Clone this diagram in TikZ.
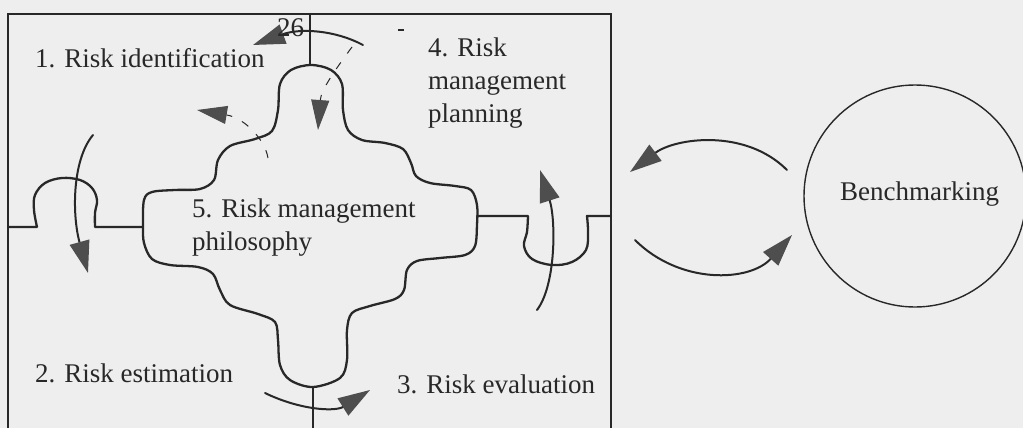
\documentclass[tikz,border=0pt]{standalone}
\usepackage{fontspec}
\setmainfont{Liberation Serif}
\usetikzlibrary{arrows.meta}
\definecolor{paper}{RGB}{238,238,238}
\definecolor{ink}{RGB}{40,40,40}
\definecolor{headfill}{RGB}{78,78,78}

\begin{document}
\begin{tikzpicture}[x=1pt,y=-1pt,
  label/.style={font=\fontsize{27}{33}\selectfont, text=ink, inner sep=0pt, anchor=base west, align=left},
  outline/.style={draw=ink, line width=2.3pt, line join=round, line cap=round},
  frame/.style={draw=ink, line width=1.8pt},
  flow/.style={draw=ink, line width=2pt, line cap=round, -{Triangle[length=32pt,width=20pt,color=headfill]}},
  dashflow/.style={draw=ink, line width=1pt, dash pattern=on 8pt off 11pt, -{Triangle[length=30pt,width=18pt,color=headfill]}},
]
\useasboundingbox (0,0) rectangle (1023,428);
\fill[paper] (0,0) rectangle (1023,428);

% outer frame
\draw[frame] (8,14) -- (611,14) -- (611,432) -- (8,432) -- cycle;

% central four-lobed shape
\draw[outline] plot[smooth cycle, tension=0.55] coordinates {
  (278,110) (280,84) (291,70) (311,65) (331,70) (342,84) (343,110)
  (348,130) (362,140) (385,143) (403,149) (411,163) (416,176) (430,183) (455,186) (471,190) (477,205)
  (477,225) (475,246) (465,255) (440,258) (417,261) (407,270) (404,290) (395,299) (370,306) (352,313) (347,330)
  (347,360) (340,378) (313,387) (290,380) (280,365) (278,340)
  (275,322) (258,314) (230,305) (220,290) (213,274) (198,267) (170,265) (152,259) (144,243)
  (143,225) (144,200) (152,192) (175,190) (200,189) (214,180) (218,160) (230,146) (255,139) (272,131)
};

% connection points of the shape
\coordinate (top)    at (310,65);
\coordinate (bottom) at (313,387);
\coordinate (left)   at (143,227);
\coordinate (right)  at (477,216);

% arms joining the shape to the frame
\draw[outline] (top) -- (310,14);
\draw[outline] (bottom) -- (313,432);
\draw[outline] (8,227) -- (37,227)
  plot[smooth, tension=0.6] coordinates {(37,227) (34,210) (35,195) (45,183) (62,178) (80,180) (92,188) (97,200) (95,213) (95,227)}
  -- (left);
\draw[outline] (right) -- (528,216)
  plot[smooth, tension=0.6] coordinates {(528,216) (527,232) (524,246) (532,259) (552,265) (572,262) (586,250) (588,232) (587,216)}
  -- (611,216);

% cycle arrows inside the frame
\coordinate (tA) at (363,45);  \coordinate (tB) at (253,45);
\coordinate (lA) at (93,135);  \coordinate (lB) at (88,273);
\coordinate (bA) at (265,393); \coordinate (bB) at (370,390);
\coordinate (rA) at (537,310); \coordinate (rB) at (540,170);
\draw[flow] (tA) .. controls (335,30) and (300,28) .. (tB);
\draw[flow] (lA) .. controls (72,160) and (72,215) .. (lB);
\draw[flow] (bA) .. controls (300,410) and (335,412) .. (bB);
\draw[flow] (rA) .. controls (556,285) and (556,220) .. (rB);

% dashed arrows near the top lobe
\coordinate (dA) at (352,47);  \coordinate (dB) at (318,130);
\coordinate (eA) at (268,158); \coordinate (eB) at (197,110);
\draw[dashflow] (dA) .. controls (335,70) and (321,90) .. (dB);
\draw[dashflow] (eA) .. controls (265,140) and (245,118) .. (eB);

% labels (multi-line ones are anchored at the baseline of their last line)
\node[label] (n26) at (277,37) {26};
\draw[ink, line width=2pt] (398,30) -- (404,30);
\node[label] (step1) at (35,68) {1. Risk identification};
\node[label] (step4) at (428,122) {4. Risk\\management\\planning};
\node[label] (step5) at (192,250) {5. Risk management\\philosophy};
\node[label] (step2) at (35,382) {2. Risk estimation};
\node[label] (step3) at (397,393) {3. Risk evaluation};

% benchmarking circle and exchange arrows
\node[circle, draw=ink, line width=1.4pt, minimum size=222pt, inner sep=0pt] (bench) at (915,196) {};
\node[label] (benchtext) at (840,200) {Benchmarking};
\coordinate (uA) at (787,170); \coordinate (uB) at (630,172);
\coordinate (wA) at (635,240); \coordinate (wB) at (792,235);
\draw[flow] (uA) .. controls (745,128) and (675,138) .. (uB);
\draw[flow] (wA) .. controls (680,285) and (750,282) .. (wB);
\end{tikzpicture}
\end{document}
